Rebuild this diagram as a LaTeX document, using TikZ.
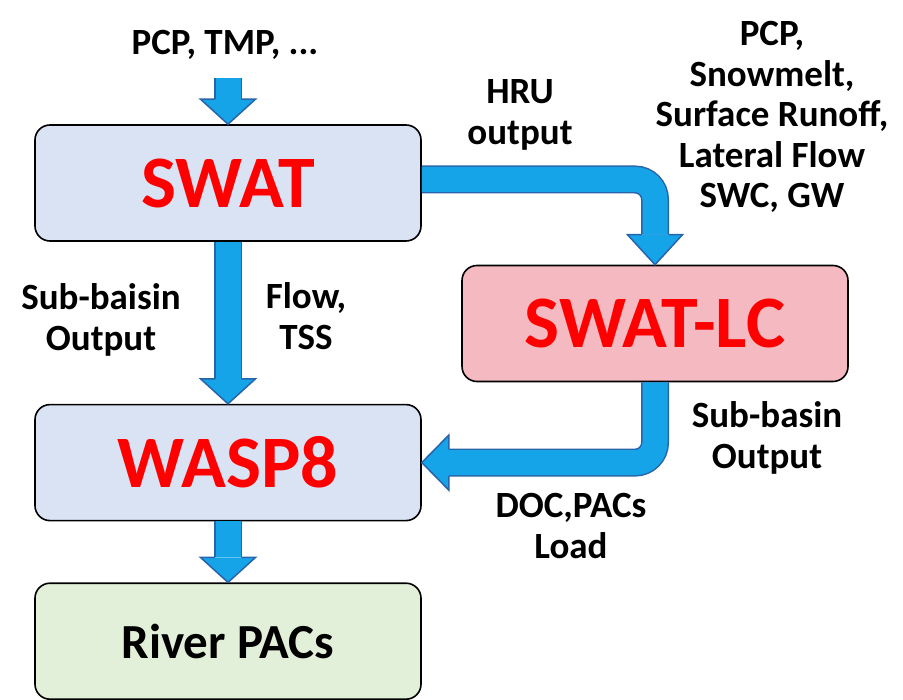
\documentclass[tikz,border=0pt]{standalone}
\usepackage{fontspec}
\setmainfont{Carlito}
\usetikzlibrary{positioning}

\definecolor{pipefill}{RGB}{22,164,232}
\definecolor{pipeedge}{RGB}{40,100,170}
\definecolor{swatblue}{RGB}{218,227,243}
\definecolor{lcpink}{RGB}{244,185,193}
\definecolor{rivergreen}{RGB}{226,240,217}

% tip of a fat arrow: [length]{tip}{direction}
\newcommand{\pipetip}[3][25pt]{%
  \filldraw[pipehead, shift={(#2)}, rotate=#3+90]
    (-13.25pt,#1) -- (-27.5pt,#1) -- (0pt,0pt) -- (27.5pt,#1) -- (13.25pt,#1);
}

\begin{document}
\begin{tikzpicture}[
x=1pt, y=-1pt,
model/.style={draw, line width=1.6pt, rounded corners=15pt, minimum width=386pt, minimum height=116pt, align=center, font=\bfseries\fontsize{74}{80}\selectfont, text=red},
note/.style={inner sep=0pt, align=center, font=\bfseries\fontsize{37}{40.5}\selectfont},
pipe/.style={draw=pipeedge, double=pipefill, double distance=25pt, line width=1.5pt, rounded corners=20pt},
pipehead/.style={draw=pipeedge, fill=pipefill, line width=1.5pt, line join=miter}
]
\useasboundingbox (0,0) rectangle (903,700);

\node[model, fill=swatblue] (swat) at (228,183) {SWAT};
\node[model, fill=swatblue, below=162pt of swat] (wasp) {WASP8};
\node[model, fill=rivergreen, text=black, font=\bfseries\fontsize{49}{54}\selectfont, below=61pt of wasp] (river) {River PACs};
\node[model, fill=lcpink] (lc) at (655,323.5) {SWAT-LC};

\node[note] (pcp) at (225,45) {PCP, TMP, ...};
\node[note] (hru) at (520,115) {HRU\\output};
\node[note] (lcin) at (772,117) {PCP,\\Snowmelt,\\Surface Runoff,\\Lateral Flow\\SWC, GW};
\node[note] (subout) at (101,320) {Sub-baisin\\Output};
\node[note] (flow) at (306,316) {Flow,\\TSS};
\node[note] (lcout) at (767,438) {Sub-basin\\Output};
\node[note] (doc) at (571,526) {DOC,PACs\\Load};

\coordinate (rain) at (228,78);

\draw[pipe] (rain) -- ([yshift=25pt]swat.north);
\pipetip{swat.north}{-90}
\draw[pipe] (swat.south) -- ([yshift=25pt]wasp.north);
\pipetip{wasp.north}{-90}
\draw[pipe] (wasp.south) -- ([yshift=25pt]river.north);
\pipetip{river.north}{-90}
\draw[pipe] ([yshift=3.5pt]swat.east) -| ([yshift=30pt]lc.north);
\pipetip[30pt]{lc.north}{-90}
\draw[pipe] (lc.south) |- ([xshift=27pt]wasp.east);
\pipetip[27pt]{wasp.east}{180}
\end{tikzpicture}
\end{document}
